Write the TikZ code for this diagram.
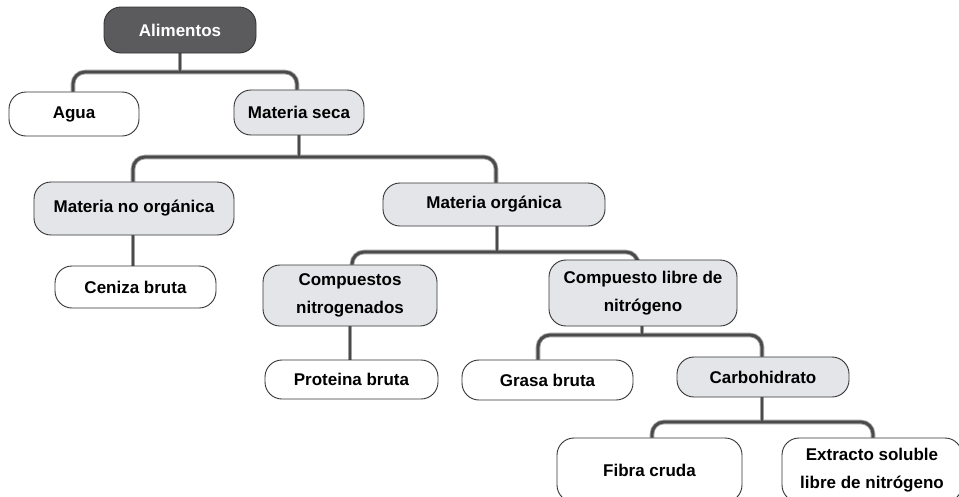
\documentclass[tikz,border=0pt]{standalone}
\usepackage{fontspec}
\setmainfont{Liberation Sans}
\usetikzlibrary{backgrounds}
\definecolor{darkfill}{HTML}{5B5B5D}
\definecolor{lightfill}{HTML}{E4E5E9}
\definecolor{boxline}{HTML}{333333}
\definecolor{connout}{HTML}{A0A0A0}
\definecolor{connin}{HTML}{4A4A4A}
\tikzset{
  box/.style={draw=boxline, line width=0.9pt, rounded corners=17pt, inner sep=0pt,
    align=center, font=\fontsize{17}{27.5}\selectfont\bfseries, text=black},
  whitebox/.style={box, fill=white},
  graybox/.style={box, fill=lightfill},
  darkbox/.style={box, fill=darkfill, text=white},
  connout/.style={draw=connout, line width=4.6pt, rounded corners=12pt},
  connin/.style={draw=connin, line width=2.8pt, rounded corners=12pt},
}
\begin{document}
\begin{tikzpicture}[x=1pt,y=-1pt]
\useasboundingbox (0,0) rectangle (959,496);
% nodes
\node[darkbox, minimum width=152pt, minimum height=46pt] (alim) at (180,30) {Alimentos};
\node[whitebox, minimum width=130pt, minimum height=44pt] (agua) at (74,114) {Agua};
\node[graybox, minimum width=130pt, minimum height=45pt] (mseca) at (299,112.5) {Materia seca};
\node[graybox, minimum width=200pt, minimum height=53pt] (mno) at (134,208.5) {Materia no orgánica};
\node[graybox, minimum width=222pt, minimum height=43pt] (morg) at (494,204.5) {Materia orgánica};
\node[whitebox, minimum width=161pt, minimum height=42pt] (ceniza) at (135.5,287) {Ceniza bruta};
\node[graybox, minimum width=174pt, minimum height=61pt] (cnit) at (350,295.5) {Compuestos\\nitrogenados};
\node[graybox, minimum width=188pt, minimum height=66pt] (clib) at (643,293) {Compuesto libre de\\nitrógeno};
\node[whitebox, minimum width=173pt, minimum height=39pt] (prot) at (351.5,379.5) {Proteina bruta};
\node[whitebox, minimum width=171pt, minimum height=40pt] (grasa) at (547.5,380) {Grasa bruta};
\node[graybox, minimum width=172pt, minimum height=40pt] (carb) at (763,377) {Carbohidrato};
\node[whitebox, minimum width=185pt, minimum height=64pt] (fibra) at (649.5,470) {Fibra cruda};
\node[whitebox, minimum width=180pt, minimum height=64pt] (extr) at (872,470) {Extracto soluble\\libre de nitrógeno};
% bar levels
\coordinate (b1) at (0,72);
\coordinate (b2) at (0,157);
\coordinate (b3) at (0,252);
\coordinate (b4) at (0,335);
\coordinate (b5) at (0,422);
\begin{scope}[on background layer]
\fill[white] (0,0) rectangle (959,496);
\foreach \st in {connout,connin}{
  % Alimentos
  \draw[\st] (alim.south) -- (alim.south |- b1);
  \draw[\st] ([xshift=-1pt]agua.north) -- ([xshift=-1pt]agua.north |- b1) -- ([xshift=-2pt]mseca.north |- b1) -- ([xshift=-2pt]mseca.north);
  % Materia seca
  \draw[\st] (mseca.south) -- (mseca.south |- b2);
  \draw[\st] ([xshift=-1pt]mno.north) -- ([xshift=-1pt]mno.north |- b2) -- ([xshift=2pt]morg.north |- b2) -- ([xshift=2pt]morg.north);
  % Materia no organica
  \draw[\st] ([xshift=-1pt]mno.south) -- ([xshift=-1pt]mno.south |- ceniza.north) -- ([xshift=-2.5pt]ceniza.north);
  % Materia organica
  \draw[\st] ([xshift=3pt]morg.south) -- ([xshift=3pt]morg.south |- b3);
  \draw[\st] ([xshift=2pt]cnit.north) -- ([xshift=2pt]cnit.north |- b3) -- ([xshift=-5pt]clib.north |- b3) -- ([xshift=-5pt]clib.north);
  % Compuestos nitrogenados
  \draw[\st] (cnit.south) -- ([xshift=-1.5pt]prot.north);
  % Compuesto libre
  \draw[\st] ([xshift=-1pt]clib.south) -- ([xshift=-1pt]clib.south |- b4);
  \draw[\st] ([xshift=-9.5pt]grasa.north) -- ([xshift=-9.5pt]grasa.north |- b4) -- ([xshift=-1pt]carb.north |- b4) -- ([xshift=-1pt]carb.north);
  % Carbohidrato
  \draw[\st] ([xshift=-1pt]carb.south) -- ([xshift=-1pt]carb.south |- b5);
  \draw[\st] ([xshift=2.5pt]fibra.north) -- ([xshift=2.5pt]fibra.north |- b5) -- ([xshift=1pt]extr.north |- b5) -- ([xshift=1pt]extr.north);
}
\end{scope}
\end{tikzpicture}
\end{document}
